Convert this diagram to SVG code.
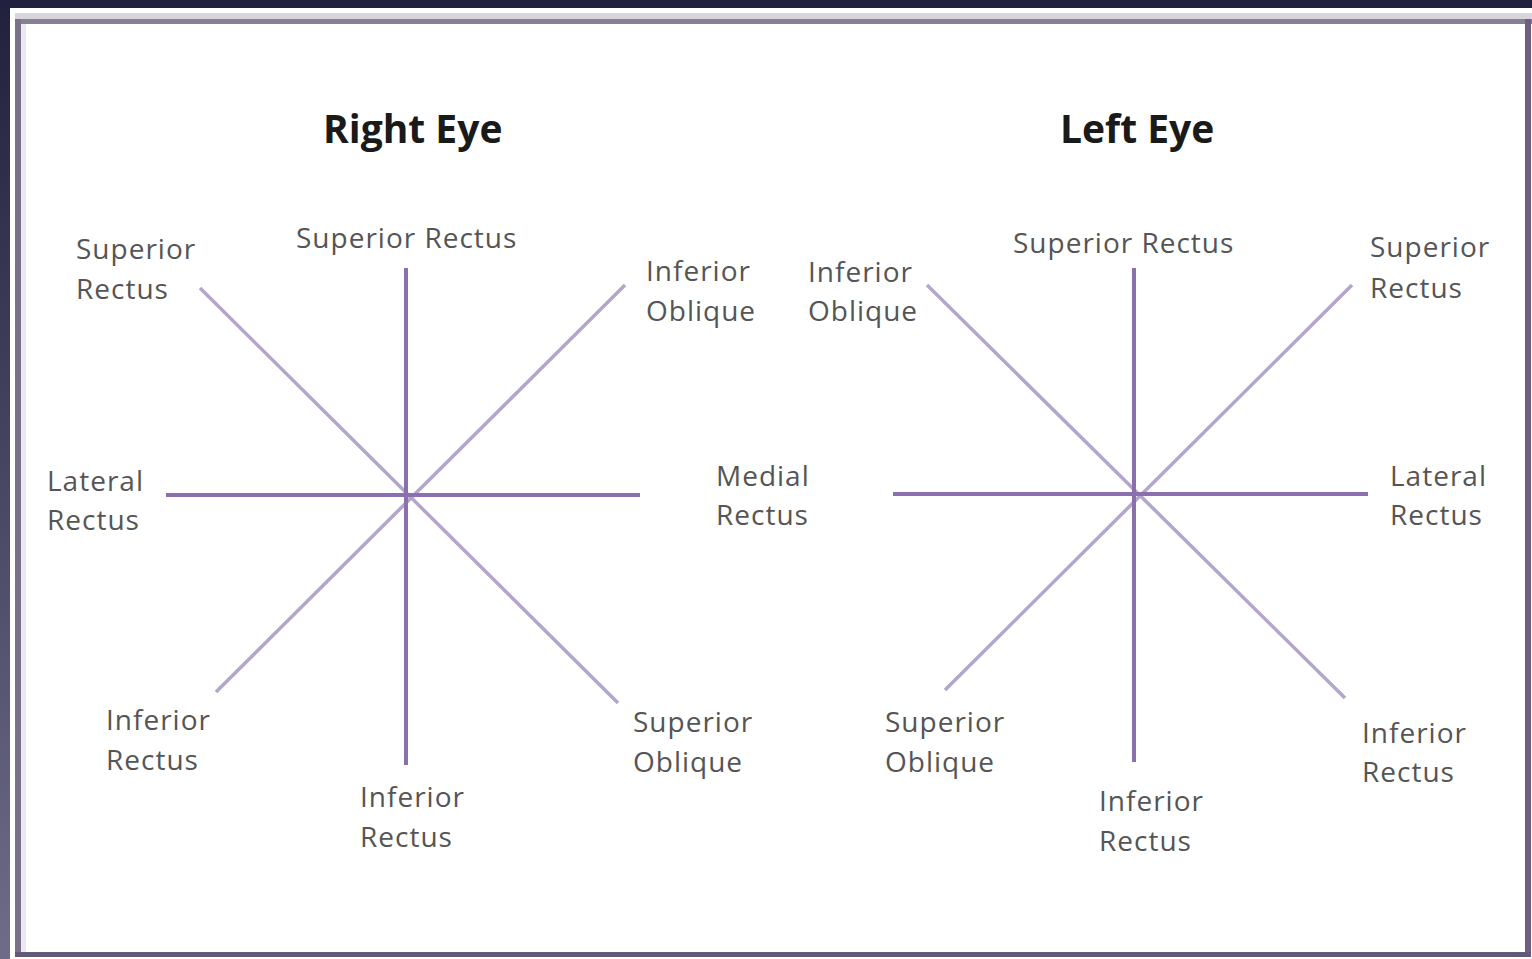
<svg xmlns="http://www.w3.org/2000/svg" width="1532" height="959" viewBox="0 0 1532 959">
<defs>
<linearGradient id="leftEdge" x1="0" y1="0" x2="0" y2="1">
<stop offset="0" stop-color="#22203f"/>
<stop offset="1" stop-color="#6e6c8a"/>
</linearGradient>
</defs>
<style>
.lbl{font-family:"Open Sans","Liberation Sans",sans-serif;font-size:28px;letter-spacing:1px;fill:#555555;}
.ttl{font-family:"Open Sans","Liberation Sans",sans-serif;font-size:39px;font-weight:bold;fill:#1a1a1a;}
.axis{stroke:#8b6fb0;stroke-width:4;fill:none;}
.diag{stroke:#b3a5cc;stroke-width:3.5;fill:none;}
</style>
<rect x="0" y="0" width="1532" height="959" fill="#22203f"/>
<rect x="0" y="0" width="10" height="959" fill="url(#leftEdge)"/>
<rect x="10" y="8" width="1522" height="951" fill="#ffffff"/>
<g id="frame">
<rect x="15" y="13" width="1517" height="6" fill="#d8d6dc"/>
<rect x="15" y="19" width="1517" height="5" fill="#878090"/>
<rect x="15" y="19" width="6" height="938" fill="#7a7088"/>
<rect x="21" y="24" width="5" height="928" fill="#ebe9f0"/>
<rect x="1525" y="19" width="6" height="938" fill="#6c5f80"/>
<rect x="15" y="952" width="1516" height="5" fill="#645878"/>
</g>
<g id="titles">
<text class="ttl" x="323" y="143">Right Eye</text>
<text class="ttl" x="1060" y="143">Left Eye</text>
</g>
<g id="connectors">
<line class="diag" x1="200" y1="288" x2="618" y2="703"/>
<line class="diag" x1="625" y1="285" x2="216" y2="692"/>
<line class="axis" x1="406" y1="268" x2="406" y2="765"/>
<line class="axis" x1="166" y1="495" x2="640" y2="495"/>
<line class="diag" x1="927" y1="285" x2="1345" y2="698"/>
<line class="diag" x1="1352" y1="285" x2="945" y2="690"/>
<line class="axis" x1="1134" y1="268" x2="1134" y2="762"/>
<line class="axis" x1="893" y1="494" x2="1368" y2="494"/>
</g>
<g id="right-eye-labels">
<g id="r-sr-top"><text class="lbl" x="296" y="248">Superior Rectus</text></g>
<g id="r-sr"><text class="lbl" x="76" y="259">Superior</text><text class="lbl" x="76" y="299">Rectus</text></g>
<g id="r-io"><text class="lbl" x="646" y="281">Inferior</text><text class="lbl" x="646" y="321">Oblique</text></g>
<g id="r-lr"><text class="lbl" x="47" y="491">Lateral</text><text class="lbl" x="47" y="530">Rectus</text></g>
<g id="r-mr"><text class="lbl" x="716" y="486">Medial</text><text class="lbl" x="716" y="525">Rectus</text></g>
<g id="r-ir"><text class="lbl" x="106" y="730">Inferior</text><text class="lbl" x="106" y="770">Rectus</text></g>
<g id="r-ir-bottom"><text class="lbl" x="360" y="807">Inferior</text><text class="lbl" x="360" y="847">Rectus</text></g>
<g id="r-so"><text class="lbl" x="633" y="732">Superior</text><text class="lbl" x="633" y="772">Oblique</text></g>
</g>
<g id="left-eye-labels">
<g id="l-sr-top"><text class="lbl" x="1013" y="253">Superior Rectus</text></g>
<g id="l-io"><text class="lbl" x="808" y="282">Inferior</text><text class="lbl" x="808" y="321">Oblique</text></g>
<g id="l-sr"><text class="lbl" x="1370" y="257">Superior</text><text class="lbl" x="1370" y="298">Rectus</text></g>
<g id="l-lr"><text class="lbl" x="1390" y="486">Lateral</text><text class="lbl" x="1390" y="525">Rectus</text></g>
<g id="l-so"><text class="lbl" x="885" y="732">Superior</text><text class="lbl" x="885" y="772">Oblique</text></g>
<g id="l-ir-bottom"><text class="lbl" x="1099" y="811">Inferior</text><text class="lbl" x="1099" y="851">Rectus</text></g>
<g id="l-ir"><text class="lbl" x="1362" y="743">Inferior</text><text class="lbl" x="1362" y="782">Rectus</text></g>
</g>
</svg>
